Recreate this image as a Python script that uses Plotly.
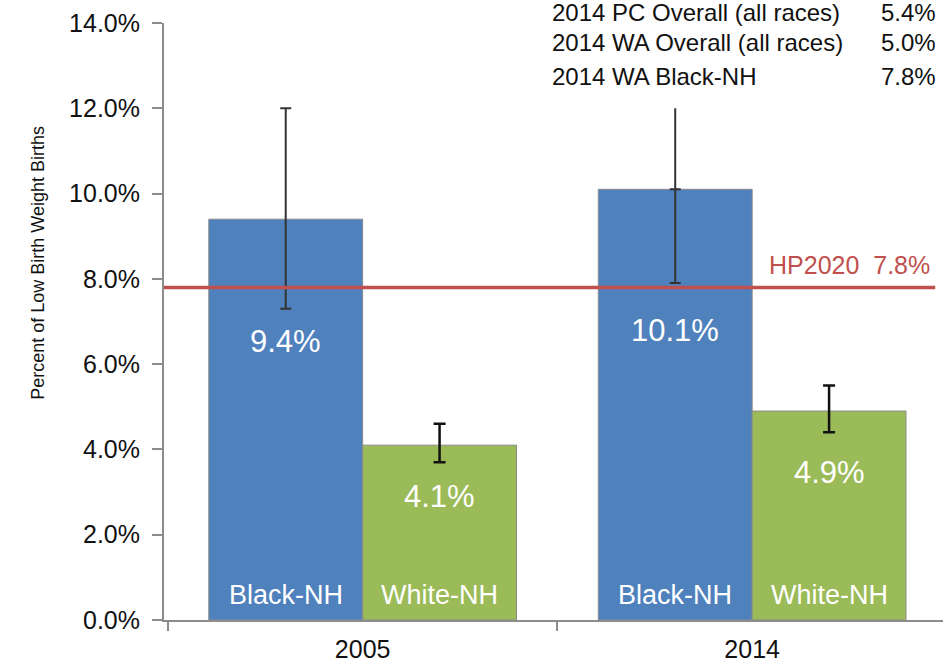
import plotly.graph_objects as go

# ---- data ----
years = ["2005", "2014"]
black_nh = [9.4, 10.1]
white_nh = [4.1, 4.9]
black_ci_low = [7.3, 7.9]
black_ci_high = [12.0, 12.0]
white_ci_low = [3.7, 4.4]
white_ci_high = [4.6, 5.5]
hp2020 = 7.8
ref_labels = ["2014 PC Overall (all races)", "2014 WA Overall (all races)", "2014 WA Black-NH"]
ref_values = ["5.4%", "5.0%", "7.8%"]
y_ticks = [0, 2, 4, 6, 8, 10, 12, 14]

FONT = "Liberation Sans, Arial, sans-serif"
BLUE = "#4f81bd"
GREEN = "#9bbb59"
RED = "#c0504d"
GRAY = "#8c8c8c"

fig = go.Figure()

# Black-NH bars; 2014 upper error drawn separately (no top cap in reference)
fig.add_trace(go.Bar(
    x=years, y=black_nh, name="Black-NH",
    marker=dict(color=BLUE, line=dict(color="#8a8a8a", width=1)),
    error_y=dict(type="data", symmetric=False,
                 array=[black_ci_high[0] - black_nh[0], 0],
                 arrayminus=[black_nh[i] - black_ci_low[i] for i in range(2)],
                 color="#333333", thickness=2, width=5.5),
))
fig.add_trace(go.Bar(
    x=years, y=white_nh, name="White-NH",
    marker=dict(color=GREEN, line=dict(color="#8a8a8a", width=1)),
    error_y=dict(type="data", symmetric=False,
                 array=[white_ci_high[i] - white_nh[i] for i in range(2)],
                 arrayminus=[white_nh[i] - white_ci_low[i] for i in range(2)],
                 color="#111111", thickness=2.5, width=6),
))

bargap = 0.21
half = (1 - bargap) / 4  # offset of each bar centre from category centre

# 2014 Black-NH upper whisker (uncapped)
fig.add_shape(type="line", xref="x", yref="y",
              x0=1 - half, x1=1 - half, y0=black_nh[1], y1=black_ci_high[1],
              line=dict(color="#333333", width=2), layer="above")

# HP2020 reference line
fig.add_shape(type="line", xref="paper", yref="y", x0=0, x1=0.99,
              y0=hp2020, y1=hp2020, line=dict(color=RED, width=3.5), layer="above")

annotations = []
# value labels inside bars
val_y_black = [6.53, 6.80]
val_y_white = [2.89, 3.45]
for i in range(2):
    annotations.append(dict(x=i - half, y=val_y_black[i], xref="x", yref="y",
                            text=f"{black_nh[i]:.1f}%", showarrow=False,
                            font=dict(family=FONT, size=31, color="white")))
    annotations.append(dict(x=i + half, y=val_y_white[i], xref="x", yref="y",
                            text=f"{white_nh[i]:.1f}%", showarrow=False,
                            font=dict(family=FONT, size=31, color="white")))
    annotations.append(dict(x=i - half, y=0.59, xref="x", yref="y",
                            text="Black-NH", showarrow=False,
                            font=dict(family=FONT, size=27, color="white")))
    annotations.append(dict(x=i + half, y=0.59, xref="x", yref="y",
                            text="White-NH", showarrow=False,
                            font=dict(family=FONT, size=27, color="white")))

# HP2020 label
annotations.append(dict(x=0.986, y=8.33, xref="paper", yref="y",
                        xanchor="right", yanchor="middle",
                        text="HP2020  7.8%", showarrow=False,
                        font=dict(family=FONT, size=25, color=RED)))

# reference rates (top right)
ref_y = [1.0168, 0.9665, 0.911]
for i in range(3):
    annotations.append(dict(x=0.496, y=ref_y[i], xref="paper", yref="paper",
                            xanchor="left", yanchor="middle", text=ref_labels[i],
                            showarrow=False, font=dict(family=FONT, size=24, color="#111111")))
    annotations.append(dict(x=0.9936, y=ref_y[i], xref="paper", yref="paper",
                            xanchor="right", yanchor="middle", text=ref_values[i],
                            showarrow=False, font=dict(family=FONT, size=24, color="#111111")))

# y axis title
annotations.append(dict(x=-0.162, y=0.598, xref="paper", yref="paper",
                        xanchor="center", yanchor="middle",
                        text="Percent of Low Birth Weight Births", textangle=-90,
                        showarrow=False,
                        font=dict(family=FONT, size=18, color="#111111")))

fig.update_layout(
    width=943, height=666,
    margin=dict(l=164, r=0, t=23, b=46),
    paper_bgcolor="white", plot_bgcolor="white",
    barmode="group", bargap=bargap, bargroupgap=0,
    showlegend=False,
    annotations=annotations,
    font=dict(family=FONT, color="#111111"),
)
fig.update_xaxes(
    type="category", range=[-0.51, 1.49],
    showline=True, linecolor=GRAY, linewidth=2,
    ticks="outside", tickson="boundaries", ticklen=9, tickcolor=GRAY, tickwidth=1.5,
    ticklabelstandoff=6,
    tickfont=dict(family=FONT, size=25, color="#111111"),
    showgrid=False, zeroline=False,
)
fig.update_yaxes(
    range=[0, 14], tickvals=y_ticks,
    ticktext=[f"{v:.1f}%" for v in y_ticks],
    showline=True, linecolor=GRAY, linewidth=2,
    ticks="outside", ticklen=10, tickcolor=GRAY, tickwidth=1.5,
    ticklabelstandoff=7,
    tickfont=dict(family=FONT, size=25, color="#111111"),
    showgrid=False, zeroline=False,
)

# remove the default 8px page margin so the 943x666 figure fills the window exactly
fig.write_html("out.html", config={"displayModeBar": False},
               post_script="document.body.style.margin='0';document.body.style.overflow='hidden';")
